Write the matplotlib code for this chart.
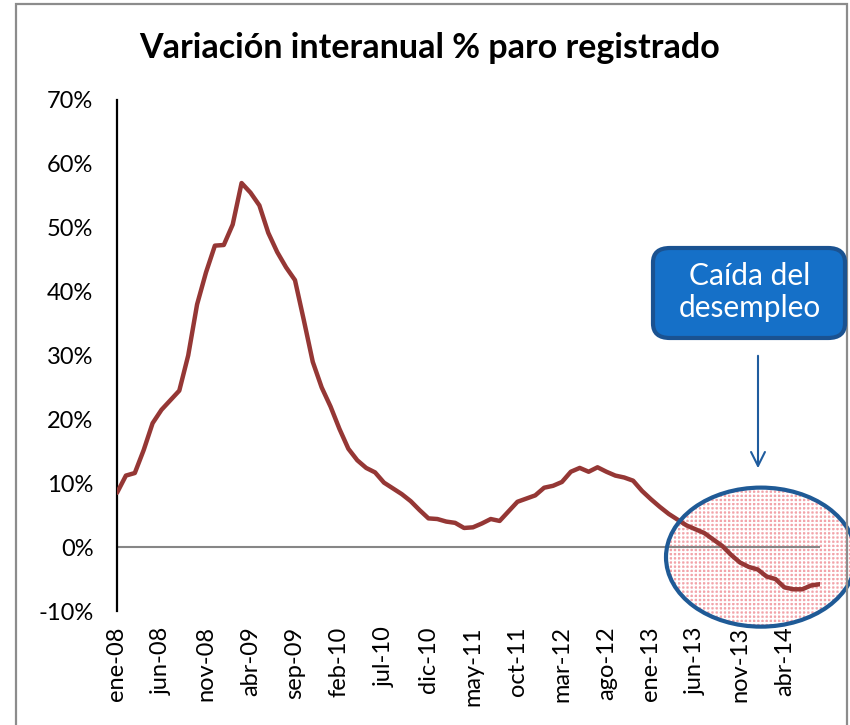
import matplotlib.pyplot as plt
import numpy as np
from matplotlib.patches import Ellipse, FancyBboxPatch, Rectangle

plt.rcParams['font.family'] = ['Lato', 'DejaVu Sans']
plt.rcParams['hatch.linewidth'] = 1.3

# monthly labels, ene-08 .. ago-14
meses = ["ene", "feb", "mar", "abr", "may", "jun", "jul", "ago", "sep", "oct", "nov", "dic"]
fechas = ["%s-%02d" % (meses[i % 12], 8 + i // 12) for i in range(80)]

variacion = [8.5, 11.2, 11.6, 15.2, 19.4, 21.5, 23.0, 24.5, 30.0, 38.0,
             43.0, 47.2, 47.3, 50.5, 57.0, 55.5, 53.5, 49.2, 46.2, 43.8,
             41.8, 35.5, 29.0, 25.0, 22.0, 18.5, 15.4, 13.6, 12.4, 11.7,
             10.1, 9.2, 8.3, 7.2, 5.8, 4.5, 4.4, 4.0, 3.8, 3.0,
             3.1, 3.7, 4.4, 4.1, 5.6, 7.1, 7.6, 8.1, 9.3, 9.6,
             10.2, 11.8, 12.4, 11.8, 12.5, 11.8, 11.2, 10.9, 10.4, 8.8,
             7.5, 6.3, 5.2, 4.3, 3.4, 2.8, 2.2, 1.2, 0.2, -1.2,
             -2.4, -3.1, -3.5, -4.6, -5.0, -6.3, -6.6, -6.6, -6.0, -5.8]

yticks = list(range(-10, 80, 10))
step = 5

fig = plt.figure(figsize=(8.5, 7.25), dpi=100)
ax = fig.add_axes([117 / 850, 1 - 611 / 725, 703 / 850, 511 / 725])

# outer frame of the chart area
fig.patches.append(Rectangle((16 / 850, -0.05), (847 - 16) / 850, 1.05 - 4 / 725,
                             transform=fig.transFigure, fill=False,
                             edgecolor="#8c8c8c", linewidth=1.6, zorder=0))

x = np.arange(len(variacion))
ax.axhline(0, color="#868686", linewidth=1.5, zorder=2)
ax.plot(x, variacion, color="#953735", linewidth=3.2, solid_joinstyle="round",
        solid_capstyle="round", zorder=3)

ax.set_xlim(0, len(variacion) - 1)
ax.set_ylim(-10, 70)
ax.set_yticks(yticks)
ax.set_yticklabels(["%d%%" % v for v in yticks], fontsize=17)
ax.set_xticks(x[::step])
ax.set_xticklabels(fechas[::step], rotation=90, fontsize=17)
ax.tick_params(axis="y", length=0, pad=17)
ax.tick_params(axis="x", length=0, pad=11)
for s in ["top", "right", "bottom"]:
    ax.spines[s].set_visible(False)
ax.spines["left"].set_linewidth(1.6)

fig.text(430 / 850, 1 - 48 / 725, "Variación interanual % paro registrado",
         ha="center", va="center", fontsize=24.5, fontweight="bold")

# highlighted ellipse
ex, ey = (761 - 117) / 703 * 79, (547 - 557) / 6.386
ew, eh = 190 / 703 * 79, 139 / 6.386
ax.add_patch(Ellipse((ex, ey), ew, eh, facecolor="#f2a4aa", edgecolor="white",
                     hatch="++++", linewidth=0, clip_on=False, zorder=1))
ax.add_patch(Ellipse((ex, ey), ew, eh, facecolor="none", edgecolor="#1f5a96",
                     linewidth=3, clip_on=False, zorder=4))

# callout box
fig.patches.append(FancyBboxPatch((653 / 850, 1 - 338 / 725), 192 / 850, 90 / 725,
                                  boxstyle="round,pad=0,rounding_size=0.02",
                                  transform=fig.transFigure, facecolor="#1570c8",
                                  edgecolor="#1a5291", linewidth=3, zorder=5))
fig.text(750 / 850, 1 - 292 / 725, "Caída del\ndesempleo", ha="center", va="center",
         fontsize=21.5, color="white", linespacing=1.2, zorder=6)

ax.annotate("", xy=(758 / 850, 1 - 471 / 725), xytext=(758 / 850, 1 - 353 / 725),
            xycoords="figure fraction", textcoords="figure fraction",
            arrowprops=dict(arrowstyle="->,head_length=1.0,head_width=0.5",
                            color="#1f5c9e", linewidth=1.5))

fig.savefig("out.png", dpi=100)
